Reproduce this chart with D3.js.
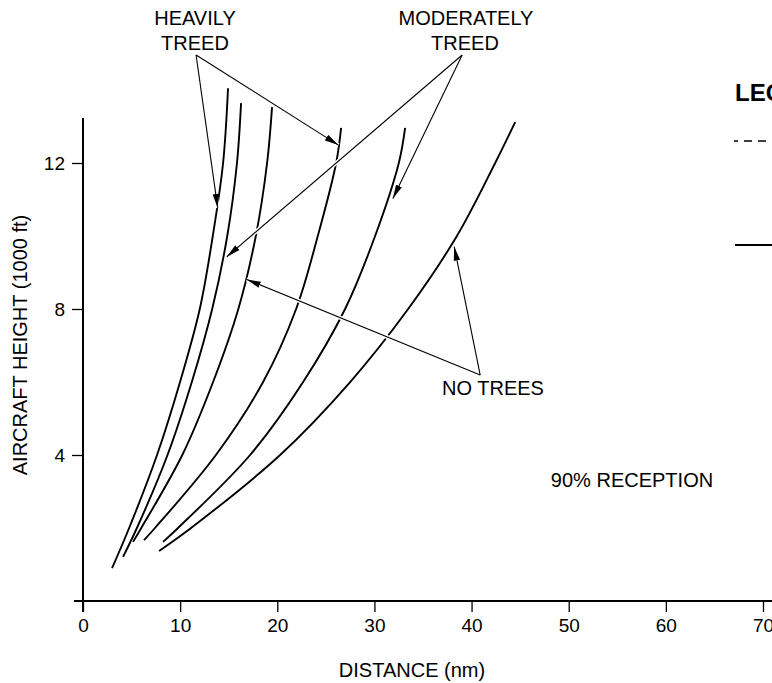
<!DOCTYPE html>
<html>
<head>
<meta charset="utf-8">
<script src="https://cdn.jsdelivr.net/npm/d3@7"></script>
<style>
  html, body { margin: 0; padding: 0; background: #fff; overflow: hidden; }
  svg { display: block; font-family: "Liberation Sans", Arial, Helvetica, sans-serif; }
</style>
</head>
<body>
<svg id="chart" width="772" height="683"></svg>
<script>
// ---- data: distance (nm) vs aircraft height (1000 ft), 90% reception ----
const heavilyTreedA = [[2.99,0.90],[4.75,2],[7.62,4],[9.99,6],[12.02,8],[13.36,10],[14.42,12],[14.93,14.05]];
const moderatelyTreedA = [[4.12,1.21],[5.55,2],[8.7,4],[11.2,6],[13.3,8],[14.85,10],[15.85,12],[16.27,13.64]];
const noTreesA = [[5.15,1.62],[6.0,2],[10.22,4],[13.39,6],[15.99,8],[17.79,10],[18.95,12],[19.46,13.53]];
const heavilyTreedB = [[6.28,1.67],[7.41,2],[13.68,4],[18.54,6],[21.94,8],[24.17,10],[26.06,12],[26.57,12.96]];
const moderatelyTreedB = [[8.24,1.62],[9.78,2],[17.2,4],[22.66,6],[26.98,8],[30.07,10],[32.51,12],[33.16,12.96]];
const noTreesB = [[7.83,1.37],[11.12,2],[20.29,4],[27.5,6],[33.47,8],[38.49,10],[42.43,12],[44.49,13.12]];

const xTicks = [0,10,20,30,40,50,60,70];
const yTicks = [4,8,12];
const xTitle = "DISTANCE (nm)";
const yTitle = "AIRCRAFT HEIGHT (1000 ft)";

// annotation labels (data coords) and arrows [from, to]
const labelHeavily = ["HEAVILY", "TREED"];
const labelModerately = ["MODERATELY", "TREED"];
const labelNoTrees = "NO TREES";
const labelReception = "90% RECEPTION";
const arrowsHeavily = [[[11.64,14.96],[13.87,10.77]], [[11.64,14.96],[26.29,12.49]]];
const arrowsModerately = [[[39.03,14.96],[31.9,11.03]], [[39.03,14.96],[14.8,9.43]]];
const arrowsNoTrees = [[[40.89,6.19],[16.86,8.81]], [[40.89,6.19],[38.21,9.71]]];
const legendTitle = "LEGEND";

// ---- layout ----
const svg = d3.select("#chart");
const x = d3.scaleLinear().domain([0,70]).range([83,763]);
const y = d3.scaleLinear().domain([0,12]).range([601,163]);

const curves = [heavilyTreedA, moderatelyTreedA, noTreesA, heavilyTreedB, moderatelyTreedB, noTreesB];
const line = d3.line().x(d=>x(d[0])).y(d=>y(d[1])).curve(d3.curveCatmullRom.alpha(0.5));

svg.append("g").selectAll("path").data(curves).join("path")
  .attr("d", line).attr("fill","none").attr("stroke","#000").attr("stroke-width",1.9);

// arrow marker
svg.append("defs").append("marker")
  .attr("id","ah").attr("markerUnits","userSpaceOnUse")
  .attr("viewBox","0 0 14 8").attr("refX",14).attr("refY",4)
  .attr("markerWidth",14).attr("markerHeight",8).attr("orient","auto")
  .append("path").attr("d","M0,0.8 L14,4 L0,7.2 Z").attr("fill","#000");

const arrows = [...arrowsHeavily, ...arrowsModerately, ...arrowsNoTrees];
const ag = svg.append("g");
ag.selectAll("line.casing").data(arrows).join("line").attr("class","casing")
  .attr("x1",d=>x(d[0][0])).attr("y1",d=>y(d[0][1]))
  .attr("x2",d=>x(d[1][0])).attr("y2",d=>y(d[1][1]))
  .attr("stroke","#fff").attr("stroke-width",4);
ag.selectAll("line.arr").data(arrows).join("line").attr("class","arr")
  .attr("x1",d=>x(d[0][0])).attr("y1",d=>y(d[0][1]))
  .attr("x2",d=>x(d[1][0])).attr("y2",d=>y(d[1][1]))
  .attr("stroke","#000").attr("stroke-width",1.1).attr("marker-end","url(#ah)");

// axes
const xAxis = svg.append("g").attr("transform",`translate(0,${y(0)})`)
  .call(d3.axisBottom(x).tickValues(xTicks).tickSize(11).tickPadding(7).tickFormat(d3.format("d")));
xAxis.select(".domain").remove();
xAxis.selectAll("text").attr("font-size",19).attr("font-family","Liberation Sans, Arial, sans-serif").attr("fill","#000");
xAxis.selectAll("line").attr("stroke","#000").attr("stroke-width",1.3);

const yAxis = svg.append("g").attr("transform",`translate(${x(0)},0)`)
  .call(d3.axisLeft(y).tickValues(yTicks).tickSize(11).tickPadding(7).tickFormat(d3.format("d")));
yAxis.select(".domain").remove();
yAxis.selectAll("text").attr("font-size",19).attr("font-family","Liberation Sans, Arial, sans-serif").attr("fill","#000");
yAxis.selectAll("line").attr("stroke","#000").attr("stroke-width",1.3);

// axis lines
svg.append("line").attr("x1",x(0)-9).attr("x2",772).attr("y1",y(0)).attr("y2",y(0))
  .attr("stroke","#000").attr("stroke-width",2);
svg.append("line").attr("x1",x(0)).attr("x2",x(0)).attr("y1",118).attr("y2",y(0)+11)
  .attr("stroke","#000").attr("stroke-width",2);

// titles
svg.append("text").attr("x",412).attr("y",677).attr("text-anchor","middle")
  .attr("font-size",20).text(xTitle);
svg.append("text").attr("transform","translate(27,345) rotate(-90)").attr("text-anchor","middle")
  .attr("font-size",20).text(yTitle);

// annotation texts
const txt = (s, px, py, size=20) => svg.append("text").attr("x",px).attr("y",py)
  .attr("text-anchor","middle").attr("font-size",size).text(s);
txt(labelHeavily[0], 195, 25); txt(labelHeavily[1], 195, 50);
txt(labelModerately[0], 466, 25); txt(labelModerately[1], 465, 50);
txt(labelNoTrees, 493, 395);
txt(labelReception, 632, 487);

// legend (cut at right edge, as in the reference)
svg.append("text").attr("x",735).attr("y",101).attr("font-size",24).attr("font-weight","bold").text(legendTitle);
svg.append("line").attr("x1",734).attr("x2",772).attr("y1",141).attr("y2",141)
  .attr("stroke","#000").attr("stroke-width",1.3).attr("stroke-dasharray","8 6").attr("stroke-dashoffset",4);
svg.append("line").attr("x1",735).attr("x2",772).attr("y1",245).attr("y2",245)
  .attr("stroke","#000").attr("stroke-width",2);
</script>
</body>
</html>
